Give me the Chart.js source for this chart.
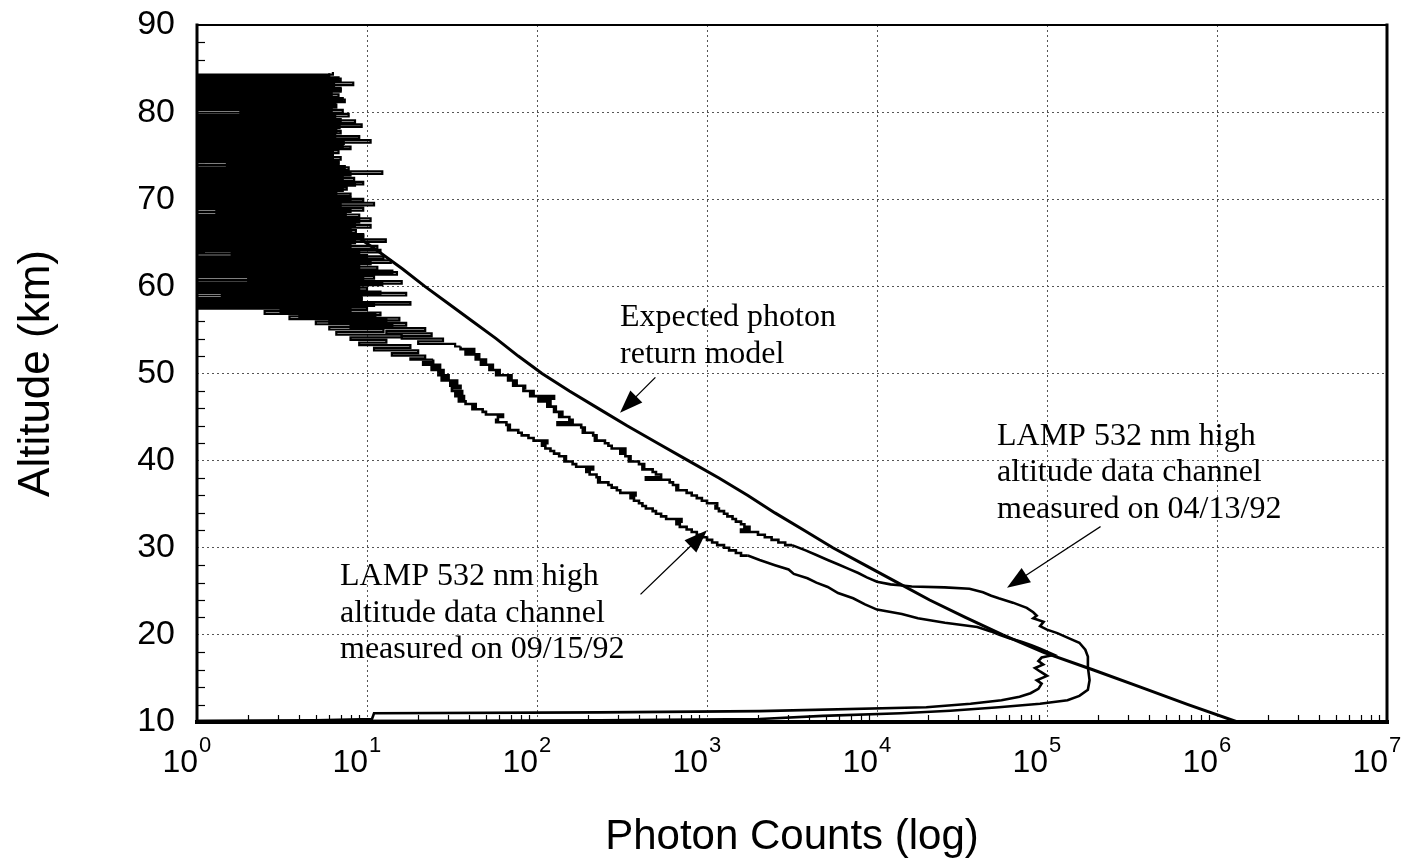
<!DOCTYPE html>
<html>
<head>
<meta charset="utf-8">
<script src="https://cdn.jsdelivr.net/npm/chart.js@4.4.1/dist/chart.umd.min.js"></script>
<style>
  html, body { margin: 0; padding: 0; background: #fff; }
  #wrap { width: 1419px; height: 868px; }
  canvas { display: block; }
</style>
</head>
<body>
<div id="wrap"><canvas id="c" width="1419" height="868"></canvas></div>
<script>
// ---- axes ----
const decadeTicks     = [1, 10, 100, 1e3, 1e4, 1e5, 1e6, 1e7];
const decadeBase      = '10';
const decadeExponents = ['0', '1', '2', '3', '4', '5', '6', '7'];
const altTicks        = [10, 20, 30, 40, 50, 60, 70, 80, 90];
const xTitle = 'Photon Counts (log)';
const yTitle = 'Altitude (km)';

// ---- expected photon return model (altitude km, counts) ----
const modelAlt = [72, 70, 68, 66, 64, 62, 60, 58, 56, 54, 52, 50, 48, 46, 44, 42,
                  40, 38, 36, 34, 32, 30, 28, 26, 24, 22, 20, 18, 16, 14, 12, 10];
const modelCounts = [3.2, 4.3, 5.9, 8.3, 11.7, 16.2, 21.9, 30.2, 41.7, 57.5, 77.6, 107, 155, 229, 339, 513,
                     776, 1175, 1740, 2510, 3720, 5500, 8510, 13200, 20400, 33100, 55000, 95500, 186000, 355000, 676000, 1320000];

// ---- 04/13/92 channel: noisy upper range bins ----
const noiseAltA = [
  84.6,84.3,84.0,83.7,83.4,83.1,82.8,82.5,82.2,81.9,
  81.6,81.3,81.0,80.7,80.4,80.1,79.8,79.5,79.2,78.9,
  78.6,78.3,78.0,77.7,77.4,77.1,76.8,76.5,76.2,75.9,
  75.6,75.3,75.0,74.7,74.4,74.1,73.8,73.5,73.2,72.9,
  72.6,72.3,72.0,71.7,71.4,71.1,70.8,70.5,70.2,69.9,
  69.6,69.3,69.0,68.7,68.4,68.1,67.8,67.5,67.2,66.9,
  66.6,66.3,66.0,65.7,65.4,65.1,64.8,64.5,64.2,63.9,
  63.6,63.3,63.0,62.7,62.4,62.1,61.8,61.5,61.2,60.9,
  60.6,60.3,60.0,59.7,59.4,59.1,58.8,58.5,58.2,57.9,
  57.6,57.3,57.0,56.7,56.4,56.1,55.8,55.5,55.2,54.9,
  54.6,54.3,54.0,53.7,53.4,53.1];
const noiseCntA = [
  6.3,1,6.8,1,8.3,1,7.0,1,6.2,1,
  7.2,1,6.5,1,6.2,1.8,7.8,1,7.0,1,
  9.3,1,6.6,1,6.5,1,10.5,1,7.2,1,
  6.8,1,6.3,1,6.8,1.5,7.4,1,12.3,1,
  7.2,1,9.5,1,7.6,1,6.6,1,8.0,1,
  11.0,1,9.5,1.3,7.5,1,10.5,1,8.5,1,
  8.0,1,9.5,1,12.9,1,8.0,1,12.0,1.6,
  10.0,1,13.8,1,9.0,1,14.1,1,11.0,2.0,
  16.0,1,9.0,1,12.0,1.4,9.3,1,18.0,1,
  10.0,3.1,12.0,4.0,15.5,6.0,17.0,8.0,22.0,13.0,
  24.0,16.0,28.0,20.0,33.0,35.5];

// ---- 04/13/92 channel: range-binned profile 53-30 km ----
const stepAltA = [
  53.1,52.8,52.5,52.2,51.9,51.6,51.3,51.0,50.7,50.4,
  50.1,49.8,49.5,49.2,48.9,48.6,48.3,48.0,47.7,47.4,
  47.1,46.8,46.5,46.2,45.9,45.6,45.3,45.0,44.7,44.4,
  44.1,43.8,43.5,43.2,42.9,42.6,42.3,42.0,41.7,41.4,
  41.1,40.8,40.5,40.2,39.9,39.6,39.3,39.0,38.7,38.4,
  38.1,37.8,37.5,37.2,36.9,36.6,36.3,36.0,35.7,35.4,
  35.1,34.8,34.5,34.2,33.9,33.6,33.3,33.0,32.7,32.4,
  32.1,31.8,31.5,31.2,30.9,30.6,30.3];
const stepCntA = [
  35.5,42.7,38.0,45.7,43.6,50.1,46.8,55.0,52.5,60.3,
  57.5,70.8,67.6,75.9,72.4,85.1,83.2,95.5,91.2,126,
  102,120,115,129,126,141,135,155,162,132,
  182,191,186,214,224,219,251,263,275,331,
  309,331,355,347,398,427,417,479,501,537,
  437,603,631,676,661,759,813,871,933,1000,
  1148,1122,1175,1259,1318,1413,1479,1585,1660,1778,
  1585,1995,2188,2399,2630,2884,3162];

// ---- 04/13/92 channel: lower profile with the 25 km layer ----
const profAltA = [
  30.3,29.7,29.2,28.6,28.1,27.6,27.1,26.6,26.1,25.8,
  25.7,25.55,25.45,25.3,24.9,24.5,24.2,23.7,23.1,22.6,
  22.2,21.9,21.5,21.0,20.6,20.2,19.6,19.1,18.3,17.5,
  16.3,14.8,13.7,13.0,12.5,12.1,11.7,11.3,11.0,10.7,
  10.35,10.2,10.15,10.1];
const profCntA = [
  3162,3802,4365,5130,5890,6760,7760,8710,10000,12000,
  13600,16000,25000,35000,42000,47000,52000,63000,76000,83000,
  87000,83000,95500,91000,100000,115000,135000,155000,168000,174000,
  174000,178000,174000,155000,132000,91000,52000,27000,13800,4800,
  2040,234,30,1];

// ---- 09/15/92 channel: noisy upper range bins ----
const noiseAltB = [
  84.45,84.15,83.85,83.55,83.25,82.95,82.65,82.35,82.05,81.75,
  81.45,81.15,80.85,80.55,80.25,79.95,79.65,79.35,79.05,78.75,
  78.45,78.15,77.85,77.55,77.25,76.95,76.65,76.35,76.05,75.75,
  75.45,75.15,74.85,74.55,74.25,73.95,73.65,73.35,73.05,72.75,
  72.45,72.15,71.85,71.55,71.25,70.95,70.65,70.35,70.05,69.75,
  69.45,69.15,68.85,68.55,68.25,67.95,67.65,67.35,67.05,66.75,
  66.45,66.15,65.85,65.55,65.25,64.95,64.65,64.35,64.05,63.75,
  63.45,63.15,62.85,62.55,62.25,61.95,61.65,61.35,61.05,60.75,
  60.45,60.15,59.85,59.55,59.25,58.95,58.65,58.35,58.05,57.75,
  57.45,57.15,56.85,56.55,56.25,55.95,55.65,55.35,55.05,54.75,
  54.45,54.15,53.85,53.55,53.25,52.95,52.65,52.35,52.05,51.75,
  51.6];
const noiseCntB = [
  6.0,1,7.0,1,6.4,1,7.0,1,6.8,1,
  7.4,1,6.6,1,7.2,1,6.5,1,8.5,1,
  6.9,1,7.0,1,9.0,1,7.3,1,8.0,1,
  6.3,1,7.0,1,6.8,1,7.8,1,8.0,1,
  8.4,1,8.5,1,7.2,1,8.0,1,9.5,1,
  7.0,1,8.0,1,9.0,1,9.0,1,10.5,1,
  8.6,1,9.5,1,8.5,1,11.5,1,9.0,1,
  12.5,1,10.5,1,11.5,1,15.0,1,9.5,1,
  12.3,1,10.0,1,17.0,1,9.3,1,11.0,1,
  8.0,2.5,11.2,3.5,13.0,5.0,14.1,6.0,12.5,6.6,
  16.0,8.0,13.0,9.0,18.0,11.0,20.0,14.0,22.0,18.0,
  24.5];

// ---- 09/15/92 channel: range-binned profile 52-29 km ----
const stepAltB = [
  51.6,51.3,51.0,50.7,50.4,50.1,49.8,49.5,49.2,48.9,
  48.6,48.3,48.0,47.7,47.4,47.1,46.8,46.5,46.2,45.9,
  45.6,45.3,45.0,44.7,44.4,44.1,43.8,43.5,43.2,42.9,
  42.6,42.3,42.0,41.7,41.4,41.1,40.8,40.5,40.2,39.9,
  39.6,39.3,39.0,38.7,38.4,38.1,37.8,37.5,37.2,36.9,
  36.6,36.3,36.0,35.7,35.4,35.1,34.8,34.5,34.2,33.9,
  33.6,33.3,33.0,32.7,32.4,32.1,31.8,31.5,31.2,30.9,
  30.6,30.3,30.0,29.7,29.4,29.1];
const stepCntB = [
  24.5,21.4,26.9,24.0,28.2,26.3,30.2,27.5,33.9,30.9,
  35.5,31.6,36.3,33.1,37.2,34.7,38.0,43.6,41.7,47.9,
  50.1,63.1,58.9,57.5,66.1,69.2,67.6,77.6,81.3,89.1,
  95.5,115,107,112,120,126,135,148,145,162,
  170,214,195,204,224,234,229,263,275,295,
  309,380,355,372,398,417,437,479,501,537,
  575,708,661,692,759,813,871,933,1000,1072,
  1148,1259,1349,1479,1585,1738];

// ---- 09/15/92 channel: lower profile ----
const profAltB = [
  29.1,28.6,28.0,27.5,27.0,26.5,26.0,25.5,24.8,24.2,
  23.5,22.9,22.4,21.9,21.4,20.9,20.4,20.0,19.6,19.2,
  18.8,18.4,17.7,17.4,17.0,16.6,16.2,15.8,15.3,14.8,
  14.4,13.8,13.3,12.9,12.5,12.1,11.7,11.25,11.1,11.0,
  10.35,10.2,10.1];
const profCntB = [
  1738,2040,2510,3020,3240,3900,4400,5130,5900,7240,
  8500,10000,14000,17400,25100,38900,46800,52500,60000,70800,
  81000,91200,110000,93000,89000,95000,85000,91000,100000,87000,
  93000,89000,80000,69000,54000,35500,19500,2040,234,11,
  10.7,5,1];

// ---- callouts: text lines, text anchor and arrow in data units (counts, km) ----
const noteModel = ['Expected photon', 'return model'];
const noteApr   = ['LAMP 532 nm high', 'altitude data channel', 'measured on 04/13/92'];
const noteSep   = ['LAMP 532 nm high', 'altitude data channel', 'measured on 09/15/92'];
const notes = [
  { lines: noteModel, at: [308, 55.45],   tail: [494, 49.5],    tip: [308, 45.5] },
  { lines: noteApr,   at: [50800, 41.8],  tail: [205000, 32.4], tip: [58200, 25.4] },
  { lines: noteSep,   at: [6.94, 25.7],   tail: [409, 24.7],    tip: [1000, 32.0] }
];

const SANS  = '"Liberation Sans", Arial, sans-serif';
const SERIF = '"Liberation Serif", "Times New Roman", serif';

function points(alts, counts) {
  return alts.map((a, i) => ({ x: counts[i], y: a }));
}

function drawArrow(ctx, x1, y1, x2, y2) {
  const ang = Math.atan2(y2 - y1, x2 - x1);
  const L = 23, W = 8.5;
  const bx = x2 - L * Math.cos(ang), by = y2 - L * Math.sin(ang);
  ctx.beginPath();
  ctx.moveTo(x1, y1);
  ctx.lineTo(bx, by);
  ctx.lineWidth = 1.3;
  ctx.stroke();
  ctx.beginPath();
  ctx.moveTo(x2, y2);
  ctx.lineTo(bx + W * Math.sin(ang), by - W * Math.cos(ang));
  ctx.lineTo(bx - W * Math.sin(ang), by + W * Math.cos(ang));
  ctx.closePath();
  ctx.fill();
}

// frame, inner minor ticks, power-of-ten labels and callouts
const decorPlugin = {
  id: 'decor',
  afterDatasetsDraw(chart) {
    const { ctx, chartArea: a, scales: { x, y } } = chart;
    ctx.save();
    ctx.strokeStyle = '#000';
    ctx.fillStyle = '#000';

    // minor ticks on the count axis (2..9 within each decade)
    ctx.lineWidth = 1.2;
    for (let d = 0; d < decadeTicks.length - 1; d++) {
      for (let m = 2; m <= 9; m++) {
        const px = Math.round(x.getPixelForValue(m * decadeTicks[d])) + 0.5;
        ctx.beginPath();
        ctx.moveTo(px, a.bottom);
        ctx.lineTo(px, a.bottom - 7);
        ctx.stroke();
      }
    }
    // minor ticks on the altitude axis (every 2 km)
    for (let k = 0; k < altTicks.length - 1; k++) {
      for (let s = 2; s <= 8; s += 2) {
        const py = Math.round(y.getPixelForValue(altTicks[k] + s)) + 0.5;
        ctx.beginPath();
        ctx.moveTo(a.left, py);
        ctx.lineTo(a.left + 8, py);
        ctx.stroke();
      }
    }

    // plot frame
    ctx.lineCap = 'square';
    ctx.lineWidth = 2;
    ctx.beginPath(); ctx.moveTo(a.left, a.top); ctx.lineTo(a.right, a.top); ctx.stroke();
    ctx.lineWidth = 3;
    ctx.beginPath(); ctx.moveTo(a.right, a.top); ctx.lineTo(a.right, a.bottom); ctx.stroke();
    ctx.beginPath(); ctx.moveTo(a.left, a.top); ctx.lineTo(a.left, a.bottom); ctx.stroke();
    ctx.lineWidth = 4;
    ctx.beginPath(); ctx.moveTo(a.left, a.bottom); ctx.lineTo(a.right, a.bottom); ctx.stroke();

    // count axis labels: base with raised exponent
    ctx.textBaseline = 'alphabetic';
    decadeTicks.forEach((v, i) => {
      const px = x.getPixelForValue(v);
      ctx.font = '32px ' + SANS;
      ctx.textAlign = 'right';
      ctx.fillText(decadeBase, px + 1, a.bottom + 50);
      ctx.font = '22px ' + SANS;
      ctx.textAlign = 'left';
      ctx.fillText(decadeExponents[i], px + 2, a.bottom + 30);
    });

    // callouts
    ctx.font = '32px ' + SERIF;
    ctx.textAlign = 'left';
    notes.forEach(n => {
      const tx = x.getPixelForValue(n.at[0]);
      const ty = y.getPixelForValue(n.at[1]);
      n.lines.forEach((line, i) => ctx.fillText(line, tx, ty + i * 36.5));
      drawArrow(ctx,
        x.getPixelForValue(n.tail[0]), y.getPixelForValue(n.tail[1]),
        x.getPixelForValue(n.tip[0]),  y.getPixelForValue(n.tip[1]));
    });
    ctx.restore();
  }
};

const gridStyle = { color: '#555', lineWidth: 1, drawTicks: false };
const noPad = s => { s.paddingTop = 0; s.paddingBottom = 0; s.paddingLeft = 0; s.paddingRight = 0; };

new Chart(document.getElementById('c'), {
  type: 'line',
  data: {
    datasets: [
      { label: 'Expected photon return model', data: points(modelAlt, modelCounts), borderWidth: 3 },
      { label: '04/13/92 upper bins', data: points(noiseAltA, noiseCntA), borderWidth: 2.2, stepped: 'after' },
      { label: '04/13/92 mid bins', data: points(stepAltA, stepCntA), borderWidth: 2.6, stepped: 'after' },
      { label: '04/13/92', data: points(profAltA, profCntA), borderWidth: 2.6 },
      { label: '09/15/92 upper bins', data: points(noiseAltB, noiseCntB), borderWidth: 2.2, stepped: 'after' },
      { label: '09/15/92 mid bins', data: points(stepAltB, stepCntB), borderWidth: 2.6, stepped: 'after' },
      { label: '09/15/92', data: points(profAltB, profCntB), borderWidth: 2.6 }
    ]
  },
  options: {
    responsive: false,
    animation: false,
    events: [],
    layout: { padding: { top: 25, right: 32, left: 0, bottom: 0 } },
    elements: {
      point: { radius: 0 },
      line: { borderColor: '#000', tension: 0, fill: false, borderJoinStyle: 'miter', borderCapStyle: 'butt' }
    },
    plugins: { legend: { display: false }, tooltip: { enabled: false } },
    scales: {
      x: {
        type: 'logarithmic',
        min: decadeTicks[0],
        max: decadeTicks[decadeTicks.length - 1],
        afterBuildTicks(s) { s.ticks = decadeTicks.map(v => ({ value: v })); },
        afterFit(s) { s.height = 146; noPad(s); },
        grid: gridStyle,
        border: { display: false, dash: [2, 3] },
        ticks: { display: false },
        title: {
          display: true, text: xTitle, color: '#000',
          font: { family: SANS, size: 42 },
          padding: { top: 0, bottom: 5 }
        }
      },
      y: {
        type: 'linear',
        min: altTicks[0],
        max: altTicks[altTicks.length - 1],
        afterBuildTicks(s) { s.ticks = altTicks.map(v => ({ value: v })); },
        afterFit(s) { s.width = 197; noPad(s); },
        grid: gridStyle,
        border: { display: false, dash: [2, 3] },
        ticks: {
          padding: 22, color: '#000',
          font: { family: SANS, size: 34 }
        },
        title: {
          display: true, text: yTitle, color: '#000',
          font: { family: SANS, size: 44 },
          padding: { top: 10, bottom: 0 }
        }
      }
    }
  },
  plugins: [decorPlugin]
});
</script>
</body>
</html>
